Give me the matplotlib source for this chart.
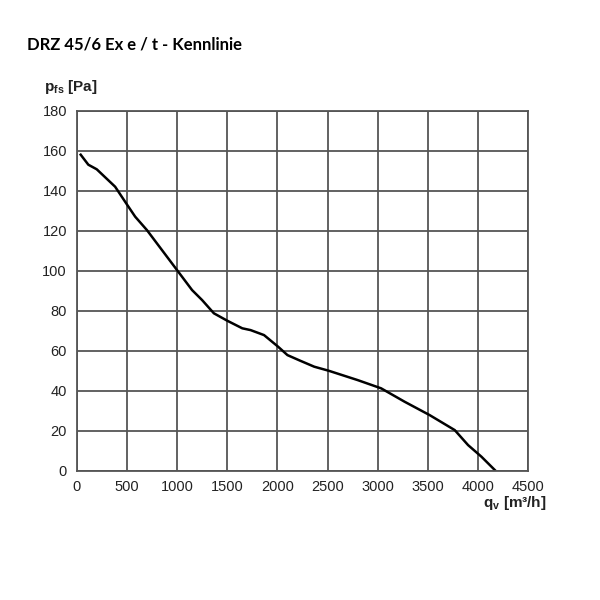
import matplotlib
matplotlib.use('Agg')
import matplotlib.pyplot as plt

# Kennlinie DRZ 45/6 Ex e / t
q_v = [40, 116, 200, 383, 493, 583, 700, 1000, 1150, 1250, 1367, 1500, 1650, 1733,
       1867, 2007, 2100, 2227, 2367, 2510, 2800, 3033, 3267, 3517, 3767, 3900, 4033, 4167]
p_fs = [158, 153, 150.7, 142, 133.7, 127, 120.3, 100.3, 90.3, 85.3, 78.7, 75, 71.2, 70.3,
        67.8, 62, 57.8, 55, 52, 50, 45.3, 41.2, 34.5, 27.8, 20.3, 12.8, 7, 0.3]

x_ticks = [0, 500, 1000, 1500, 2000, 2500, 3000, 3500, 4000, 4500]
y_ticks = [0, 20, 40, 60, 80, 100, 120, 140, 160, 180]

plt.rcParams['font.family'] = ['Liberation Sans', 'DejaVu Sans']
plt.rcParams['mathtext.fontset'] = 'custom'
plt.rcParams['mathtext.rm'] = 'Liberation Sans'
plt.rcParams['mathtext.bf'] = 'Liberation Sans:bold'

fig = plt.figure(figsize=(6, 6), dpi=100)
ax = fig.add_axes([0.1278, 0.2155, 0.7527, 0.6])

gridcol = '#555555'
ax.plot(q_v, p_fs, color='black', linewidth=1.8)

ax.set_xlim(0, 4500)
ax.set_ylim(0, 180)
ax.set_xticks(x_ticks)
ax.set_yticks(y_ticks)
ax.tick_params(length=0, labelsize=10.5, colors='#222222', pad=7)
ax.grid(True, color=gridcol, linewidth=1.3)
for s in ax.spines.values():
    s.set_color(gridcol)
    s.set_linewidth(1.3)

fig.text(0.073, 0.848, r'$\mathbf{p_{fs}}$ [Pa]', fontsize=11, fontweight='bold', color='#222222')
fig.text(0.911, 0.155, r'$\mathbf{q_{v}}$ [m³/h]', fontsize=11, fontweight='bold',
         color='#222222', ha='right')

fig.text(0.045, 0.918, 'DRZ 45/6 Ex e / t - Kennlinie', fontsize=12, fontweight='bold',
         family=['Lato', 'DejaVu Sans'], color='black')

fig.savefig('out.png', dpi=100, facecolor='white')
